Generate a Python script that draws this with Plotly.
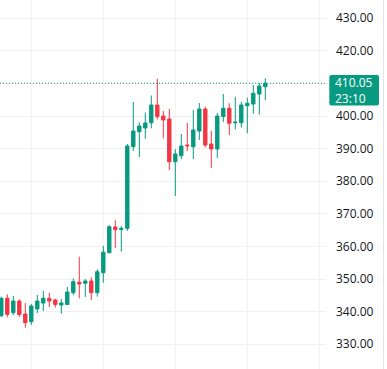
import plotly.graph_objects as go

# ---- data ----
idx = list(range(45))
opens = [338.74, 344.08, 339.66, 343.25, 339.26, 336.90, 340.80, 342.64, 344.08, 343.56,
         342.02, 342.18, 345.80, 348.99, 348.68, 349.39, 345.80, 351.93, 358.07, 365.95,
         365.18, 365.55, 390.58, 395.18, 396.32, 397.94, 403.37, 400.00, 399.08, 385.98,
         387.82, 391.10, 390.55, 395.40, 402.15, 391.41, 389.88, 399.79, 402.36, 397.91,
         397.94, 403.16, 403.68, 406.75, 408.99]
highs = [344.57, 345.31, 344.79, 343.71, 342.64, 342.33, 345.09, 346.32, 345.77, 343.96,
         343.87, 347.55, 350.21, 356.84, 350.00, 350.52, 352.98, 360.18, 366.50, 368.01,
         366.32, 391.41, 404.29, 398.07, 401.07, 406.29, 411.44, 401.53, 402.15, 389.82,
         394.48, 397.85, 401.84, 403.99, 402.76, 395.40, 400.92, 406.75, 403.90, 405.89,
         404.39, 405.61, 409.51, 410.12, 411.56]
lows = [338.34, 338.25, 338.96, 338.44, 335.06, 335.95, 339.57, 340.18, 341.41, 341.26,
        339.36, 342.02, 345.09, 344.08, 344.48, 343.56, 344.57, 348.87, 357.90, 359.42,
        358.37, 364.72, 389.26, 387.42, 393.04, 396.23, 398.93, 393.10, 383.44, 375.46,
        386.75, 389.26, 386.81, 392.64, 390.40, 384.05, 387.12, 398.16, 394.17, 395.92,
        396.47, 394.69, 400.71, 400.40, 404.91]
closes = [344.08, 339.17, 343.25, 339.11, 336.60, 341.72, 343.25, 344.08, 343.25, 342.18,
          342.64, 346.01, 349.17, 348.47, 349.39, 345.80, 352.24, 358.22, 366.04, 365.18,
          365.55, 390.80, 395.40, 396.93, 397.85, 403.37, 399.79, 398.77, 385.98, 388.34,
          390.80, 390.86, 395.71, 402.15, 391.10, 389.88, 400.00, 402.36, 397.76, 398.10,
          403.37, 403.90, 406.96, 409.20, 410.05]

price_ticks = [330, 340, 350, 360, 370, 380, 390, 400, 410, 420, 430]
tick_labels = ["330.00", "340.00", "350.00", "360.00", "370.00", "380.00",
               "390.00", "400.00", "", "420.00", "430.00"]
grid_x = [5, 17, 29, 41, 53]
last_price_label = "410.05"
countdown_label = "23:10"

UP = "#089981"
DOWN = "#F23645"
GRID = "#F0F0F1"
TEXT = "#131722"

W, H = 387, 369
PLOT_W = 327

fig = go.Figure()
fig.add_trace(go.Candlestick(
    x=idx, open=opens, high=highs, low=lows, close=closes,
    increasing=dict(line=dict(color=UP, width=1), fillcolor=UP),
    decreasing=dict(line=dict(color=DOWN, width=1), fillcolor=DOWN),
    whiskerwidth=0, hoverinfo="skip", showlegend=False,
))

px_per_bar = 6.0
x0_px = 1.3
xr = [(0 - x0_px) / px_per_bar, (PLOT_W - x0_px) / px_per_bar]
px_per_unit = 3.26
y_ref_px, y_ref_val = 116, 400
yr = [y_ref_val - (H - y_ref_px) / px_per_unit, y_ref_val + y_ref_px / px_per_unit]


def ypx(p):
    return y_ref_val + (y_ref_px - p) / px_per_unit


last = closes[-1]

shapes = []
for gx in grid_x:
    shapes.append(dict(type="line", xref="x", yref="paper", x0=gx, x1=gx, y0=0, y1=1,
                       line=dict(color=GRID, width=1), layer="below"))
# right border line
shapes.append(dict(type="line", xref="paper", yref="paper", x0=383.5 / PLOT_W, x1=383.5 / PLOT_W,
                   y0=0, y1=1, line=dict(color="#E0E3EB", width=1)))
# last price dotted line
shapes.append(dict(type="line", xref="paper", yref="y", x0=0, x1=1, y0=last, y1=last,
                   line=dict(color=UP, width=1, dash="1px,2px")))
# last price label box (rounded corners)
bx0, bx1 = 329.3 / PLOT_W, 379 / PLOT_W
by0, by1 = ypx(105.5), ypx(75)
rx, ry = 2 / PLOT_W, 2 / px_per_unit
path = (f"M {bx0 + rx},{by0} L {bx1 - rx},{by0} Q {bx1},{by0} {bx1},{by0 + ry} "
        f"L {bx1},{by1 - ry} Q {bx1},{by1} {bx1 - rx},{by1} "
        f"L {bx0 + rx},{by1} Q {bx0},{by1} {bx0},{by1 - ry} "
        f"L {bx0},{by0 + ry} Q {bx0},{by0} {bx0 + rx},{by0} Z")
shapes.append(dict(type="path", xref="paper", yref="y", path=path,
                   fillcolor=UP, line=dict(width=0)))

annotations = [
    dict(xref="paper", yref="y", x=336 / PLOT_W, y=ypx(90.7),
         text=f"{last_price_label}<br>{countdown_label}", align="left",
         showarrow=False, xanchor="left", yanchor="middle", xshift=-2,
         borderpad=0,
         font=dict(family="Open Sans, sans-serif", size=12, color="white")),
]

fig.update_layout(
    width=W, height=H,
    margin=dict(l=0, r=W - PLOT_W, t=0, b=0),
    paper_bgcolor="white", plot_bgcolor="white",
    showlegend=False,
    shapes=shapes, annotations=annotations,
    xaxis=dict(range=xr, showgrid=False, zeroline=False, showticklabels=False,
               rangeslider=dict(visible=False), fixedrange=True),
    yaxis=dict(range=yr, side="right", tickvals=price_ticks, ticktext=tick_labels,
               showgrid=True, gridcolor=GRID, gridwidth=1, zeroline=False,
               ticks="", ticklabelstandoff=8,
               tickfont=dict(family="Open Sans, sans-serif", size=12, color=TEXT),
               fixedrange=True),
    boxgap=0.2,
)

fig.write_html("out.html", config=dict(displayModeBar=False),
               post_script="document.body.style.margin='0';document.body.style.overflow='hidden';")
